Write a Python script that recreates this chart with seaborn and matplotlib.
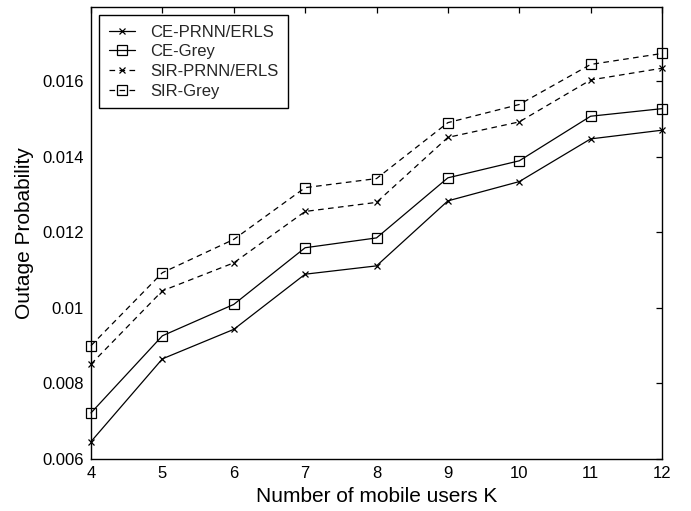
import numpy as np
import pandas as pd
import matplotlib
matplotlib.use("Agg")
import matplotlib.pyplot as plt
import seaborn as sns

# ---- data ----
users_k = [4, 5, 6, 7, 8, 9, 10, 11, 12]
ce_prnn = [0.00646, 0.00865, 0.00943, 0.01089, 0.01111, 0.01283, 0.01334, 0.01447, 0.01470]
ce_grey = [0.00722, 0.00926, 0.01009, 0.01159, 0.01185, 0.01344, 0.01389, 0.01507, 0.01527]
sir_prnn = [0.00851, 0.01045, 0.01119, 0.01255, 0.01279, 0.01451, 0.01492, 0.01603, 0.01634]
sir_grey = [0.00900, 0.01093, 0.01181, 0.01318, 0.01342, 0.01490, 0.01538, 0.01644, 0.01673]
series_names = ["CE-PRNN/ERLS", "CE-Grey", "SIR-PRNN/ERLS", "SIR-Grey"]
y_ticks = [0.006, 0.008, 0.010, 0.012, 0.014, 0.016]
y_tick_labels = ["0.006", "0.008", "0.01", "0.012", "0.014", "0.016"]
x_ticks = [4, 5, 6, 7, 8, 9, 10, 11, 12]

sns.set_theme(style="white")
plt.rcParams["font.family"] = ["Liberation Sans", "DejaVu Sans"]

fig = plt.figure(figsize=(6.91, 5.11), dpi=100)
ax = fig.add_axes([91 / 691, 52 / 511, 571 / 691, 452 / 511])

styles = {
    "CE-PRNN/ERLS": dict(marker="x", linestyle="-", ms=4.5),
    "CE-Grey": dict(marker="s", linestyle="-", ms=6.5),
    "SIR-PRNN/ERLS": dict(marker="x", linestyle=(0, (4.5, 3.5)), ms=4.5),
    "SIR-Grey": dict(marker="s", linestyle=(0, (4.5, 3.5)), ms=6.5),
}
values = [ce_prnn, ce_grey, sir_prnn, sir_grey]
for name, vals in zip(series_names, values):
    st = styles[name]
    sns.lineplot(x=users_k, y=vals, ax=ax, color="black", lw=0.9,
                 marker=st["marker"], ms=st["ms"], mfc="none", mec="black",
                 mew=0.9, linestyle=st["linestyle"], label=name, clip_on=False,
                 zorder=3)

ax.set_xlim(4, 12)
ax.set_ylim(0.006, 0.01796)
ax.set_xticks(x_ticks)
ax.set_xticklabels([str(v) for v in x_ticks])
ax.set_yticks(y_ticks)
ax.set_yticklabels(y_tick_labels)
ax.tick_params(direction="in", length=4, width=0.9, top=True, right=True,
               labelsize=12, colors="black", pad=5)
for sp in ax.spines.values():
    sp.set_color("black")
    sp.set_linewidth(1.0)
ax.set_xlabel("Number of mobile users K", fontsize=15, color="black", labelpad=4)
ax.set_ylabel("Outage Probability", fontsize=15, color="black", labelpad=6)

leg = ax.legend(loc="upper left", fontsize=12, frameon=True, fancybox=False,
                edgecolor="black", framealpha=1, handlelength=1.6,
                labelspacing=0.28, borderaxespad=0.5, handletextpad=0.9,
                borderpad=0.55)
leg.get_frame().set_linewidth(1.0)
leg.set_zorder(5)

fig.savefig("out.png", dpi=100)
